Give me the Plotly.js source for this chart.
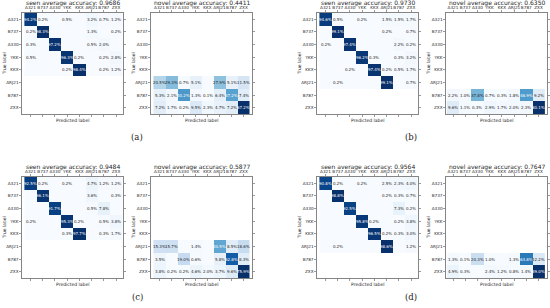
<!DOCTYPE html>
<html>
<head>
<meta charset="utf-8">
<script src="https://cdn.plot.ly/plotly-3.0.1.min.js"></script>
<style>
  html, body { margin: 0; padding: 0; background: #fff; }
  #chart { width: 550px; height: 308px; }
</style>
</head>
<body>
<div id="chart"></div>
<script>
// class labels (same order on both axes)
const classes = ['A321', 'B737', 'A330', 'YKK', 'KKX', 'ARJ21', 'B787', 'ZXX'];
const N = null; // row without samples

// (a) seen / novel
const seenA = [
  [94.2, 0.2, 0, 0.5, 0, 3.2, 0.7, 1.2],
  [0.2, 98.3, 0, 0, 0, 1.3, 0, 0.2],
  [0.3, 0, 97.2, 0, 0, 0.5, 2.0, 0],
  [0.5, 0, 0, 96.3, 0.2, 0, 0.2, 2.8],
  [0, 0, 0, 0.2, 98.4, 0, 0.2, 1.2],
  [N, N, N, N, N, N, N, N],
  [N, N, N, N, N, N, N, N],
  [N, N, N, N, N, N, N, N]
];
const novelA = [
  [N, N, N, N, N, N, N, N],
  [N, N, N, N, N, N, N, N],
  [N, N, N, N, N, N, N, N],
  [N, N, N, N, N, N, N, N],
  [N, N, N, N, N, N, N, N],
  [20.5, 29.3, 0.7, 5.1, 0, 27.9, 5.1, 11.5],
  [5.3, 2.1, 40.2, 1.3, 0.1, 6.4, 37.2, 7.4],
  [7.2, 1.7, 0.2, 9.5, 2.3, 4.7, 7.2, 67.2]
];
// (b)
const seenB = [
  [94.6, 0.5, 0, 0.2, 0, 1.5, 1.5, 1.7],
  [0, 99.1, 0, 0, 0, 0.2, 0, 0.7],
  [0.2, 0, 97.4, 0, 0, 0, 2.2, 0.2],
  [0, 0, 0, 96.2, 0.3, 0, 0.3, 3.2],
  [0, 0, 0.2, 0, 97.4, 0.2, 0.5, 1.7],
  [0, 0.2, 0, 0, 0, 99.1, 0, 0.7],
  [N, N, N, N, N, N, N, N],
  [N, N, N, N, N, N, N, N]
];
const novelB = [
  [N, N, N, N, N, N, N, N],
  [N, N, N, N, N, N, N, N],
  [N, N, N, N, N, N, N, N],
  [N, N, N, N, N, N, N, N],
  [N, N, N, N, N, N, N, N],
  [N, N, N, N, N, N, N, N],
  [2.2, 1.0, 37.8, 0.7, 0.3, 1.8, 46.9, 9.2],
  [9.6, 1.1, 0.3, 2.9, 1.7, 2.0, 2.3, 80.1]
];
// (c)
const seenC = [
  [92.5, 0.2, 0, 0.2, 0, 4.7, 1.2, 1.2],
  [0, 96.1, 0, 0, 0, 3.6, 0, 0.3],
  [0, 0, 91.7, 0, 0, 0.5, 7.8, 0],
  [0.2, 0, 0, 95.3, 0.2, 0, 0.5, 3.8],
  [0, 0, 0, 0.3, 97.7, 0, 0.3, 1.7],
  [N, N, N, N, N, N, N, N],
  [N, N, N, N, N, N, N, N],
  [N, N, N, N, N, N, N, N]
];
const novelC = [
  [N, N, N, N, N, N, N, N],
  [N, N, N, N, N, N, N, N],
  [N, N, N, N, N, N, N, N],
  [N, N, N, N, N, N, N, N],
  [N, N, N, N, N, N, N, N],
  [15.3, 15.7, 0, 1.4, 0, 40.5, 8.5, 18.6],
  [3.5, 0, 19.0, 0.6, 0, 5.8, 62.8, 8.3],
  [3.8, 0.2, 0.2, 4.6, 2.0, 3.7, 9.6, 75.9]
];
// (d)
const seenD = [
  [90.8, 0.2, 0, 0.2, 0, 2.5, 2.3, 4.0],
  [0, 98.8, 0, 0, 0, 0.2, 0.3, 0.7],
  [0, 0, 92.5, 0, 0, 0, 7.3, 0.2],
  [0, 0, 0, 95.8, 0.2, 0, 0.2, 3.8],
  [0, 0, 0, 0, 96.5, 0.2, 0.3, 3.0],
  [0, 0.2, 0, 0, 0, 98.6, 0, 1.2],
  [N, N, N, N, N, N, N, N],
  [N, N, N, N, N, N, N, N]
];
const novelD = [
  [N, N, N, N, N, N, N, N],
  [N, N, N, N, N, N, N, N],
  [N, N, N, N, N, N, N, N],
  [N, N, N, N, N, N, N, N],
  [N, N, N, N, N, N, N, N],
  [N, N, N, N, N, N, N, N],
  [1.3, 0.1, 20.3, 1.0, 0, 1.3, 63.8, 12.2],
  [4.9, 0.3, 0, 2.4, 1.2, 0.8, 1.4, 89.0]
];

const titles = [
  'seen average accuracy: 0.9686', 'novel average accuracy: 0.4411',
  'seen average accuracy: 0.9730', 'novel average accuracy: 0.6350',
  'seen average accuracy: 0.9484', 'novel average accuracy: 0.5877',
  'seen average accuracy: 0.9564', 'novel average accuracy: 0.7647'
];
const mats = [seenA, novelA, seenB, novelB, seenC, novelC, seenD, novelD];
const subLabels = ['(a)', '(b)', '(c)', '(d)'];

// matplotlib "Blues"
const blues = [
  [0, '#f7fbff'], [0.125, '#deebf7'], [0.25, '#c6dbef'], [0.375, '#9ecae1'],
  [0.5, '#6baed6'], [0.625, '#4292c6'], [0.75, '#2171b5'], [0.875, '#08519c'], [1, '#08306b']
];

const W = 550, H = 308, S = 101;
const lefts = [22, 151, 317, 446];
const tops = [13, 177];
const FONT = 'DejaVu Sans, sans-serif';

const traces = [], annotations = [], layout = {
  width: W, height: H,
  margin: { l: 0, r: 0, t: 0, b: 0 },
  paper_bgcolor: '#fff', plot_bgcolor: '#fff',
  font: { family: FONT, color: '#262626' },
  showlegend: false
};

mats.forEach((m, k) => {
  const n = k + 1;
  const x0 = lefts[k % 4], y0 = tops[Math.floor(k / 4)];
  const vals = m.flat().filter(v => v !== null);
  const zmax = Math.max(...vals);
  traces.push({
    type: 'heatmap', z: m, x: classes, y: classes,
    xaxis: 'x' + n, yaxis: 'y' + n,
    colorscale: blues, zmin: 0, zmax: zmax, showscale: false, hoverinfo: 'skip'
  });
  const axBase = {
    showline: true, mirror: 'ticks', linecolor: '#333', linewidth: 0.6,
    ticks: 'outside', ticklen: 2, tickwidth: 0.5, tickcolor: '#333',
    tickfont: { size: 4.2, family: FONT, color: '#262626' }, tickangle: 0,
    showgrid: false, zeroline: false, fixedrange: true, type: 'category'
  };
  layout['xaxis' + n] = Object.assign({}, axBase, {
    domain: [x0 / W, (x0 + S) / W], anchor: 'y' + n, side: 'top', ticklabelstandoff: 0
  });
  layout['yaxis' + n] = Object.assign({}, axBase, {
    domain: [1 - (y0 + S) / H, 1 - y0 / H], anchor: 'x' + n, autorange: 'reversed'
  });
  const xr = 'x' + (n === 1 ? '' : n) + ' domain';
  const yr = 'y' + (n === 1 ? '' : n) + ' domain';
  annotations.push({ xref: xr, yref: yr, x: 0.5, y: 1, yanchor: 'bottom', yshift: 4,
    text: titles[k], showarrow: false, font: { size: 6, family: FONT, color: '#262626' } });
  annotations.push({ xref: xr, yref: yr, x: 0.5, y: 0, yanchor: 'top', yshift: -2,
    text: 'Predicted label', showarrow: false, font: { size: 4.5, family: FONT, color: '#262626' } });
  annotations.push({ xref: xr, yref: yr, x: 0, y: 0.5, xanchor: 'right', xshift: -13,
    text: 'True label', textangle: -90, showarrow: false, font: { size: 4.5, family: FONT, color: '#262626' } });
  // cell values
  m.forEach((row, i) => row.forEach((v, j) => {
    if (v === null || v === 0) return;
    annotations.push({
      xref: 'x' + n, yref: 'y' + n, x: classes[j], y: classes[i],
      text: v.toFixed(1) + '%', showarrow: false,
      font: { size: 4, family: FONT, color: v > zmax / 2 ? '#ffffff' : '#262626' }
    });
  }));
});

// subfigure captions
const capX = [137, 411], capY = [137, 297];
subLabels.forEach((s, i) => {
  annotations.push({
    xref: 'paper', yref: 'paper', x: capX[i % 2] / W, y: 1 - capY[Math.floor(i / 2)] / H,
    xanchor: 'center', yanchor: 'middle',
    text: s, showarrow: false, font: { size: 8.5, family: 'DejaVu Serif, serif', color: '#222' }
  });
});

layout.annotations = annotations;
Plotly.newPlot('chart', traces, layout, { displayModeBar: false, staticPlot: true });
</script>
</body>
</html>
